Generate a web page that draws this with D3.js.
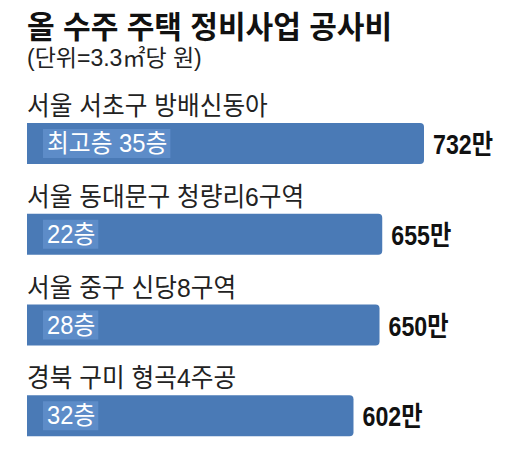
<!DOCTYPE html>
<html>
<head>
<meta charset="utf-8">
<script src="https://cdn.jsdelivr.net/npm/d3@7"></script>
<style>
  body { margin: 0; background: #fff; }
  svg { display: block; }
</style>
</head>
<body>
<div id="chart"></div>
<script>
// values in 만원 per 3.3㎡
const categories = ['서울 서초구 방배신동아', '서울 동대문구 청량리6구역', '서울 중구 신당8구역', '경북 구미 형곡4주공'];
const values = [732, 655, 650, 602];
const floorLabels = ['최고층 35층', '22층', '28층', '32층'];
const valueSuffix = '만';
const title = '올 수주 주택 정비사업 공사비';
const subtitle = '(단위=3.3㎡당 원)';

const width = 520;
const height = 462;
const margin = { top: 78, right: 20, bottom: 21, left: 27 };
const barColor = '#4a7ab6';
const tagColor = '#5d8cc8';
const textColor = '#222';
// latin digits from Liberation, hangul falls back to Noto CJK
const mixFont = '"Liberation Sans", "Noto Sans CJK KR", sans-serif';

const svg = d3.select('#chart')
  .append('svg')
  .attr('width', width)
  .attr('height', height);

svg.append('rect')
  .attr('width', width)
  .attr('height', height)
  .attr('fill', '#fff');

// condensed text helper
const place = (sel, x, y, sx) => sel.attr('transform', `translate(${x},${y}) scale(${sx},1)`);

place(svg.append('text'), margin.left, 38, 0.97)
  .style('font-family', mixFont)
  .style('font-size', '31px')
  .style('font-weight', '700')
  .attr('fill', '#111')
  .text(title);

place(svg.append('text'), margin.left, 65.5, 1)
  .style('font-family', mixFont)
  .style('font-size', '23px')
  .attr('fill', textColor)
  .text(subtitle);

const x = d3.scaleLinear()
  .domain([0, d3.max(values)])
  .range([0, 397]);

const y = d3.scaleBand()
  .domain(categories)
  .range([margin.top, height - margin.bottom]);

const barH = 41;
const barOffset = 45;
const r = 4;

// bar with rounded right corners only
const barPath = w => `M0,0H${w - r}Q${w},0 ${w},${r}V${barH - r}Q${w},${barH} ${w - r},${barH}H0Z`;

const rows = svg.selectAll('g.row')
  .data(categories.map((c, i) => ({ cat: c, value: values[i], floor: floorLabels[i] })))
  .enter()
  .append('g')
  .attr('class', 'row')
  .attr('transform', d => `translate(${margin.left}, ${y(d.cat)})`);

rows.each(function drawLabel(d) {
  place(d3.select(this).append('text'), 0, 37, 0.95)
    .style('font-family', mixFont)
    .style('font-size', '26px')
    .attr('fill', textColor)
    .text(d.cat);
});

rows.append('path')
  .attr('transform', `translate(0, ${barOffset})`)
  .attr('d', d => barPath(x(d.value)))
  .attr('fill', barColor);

rows.each(function drawTag(d) {
  const g = d3.select(this);
  const tag = g.append('g');
  const rect = tag.append('rect')
    .attr('fill', tagColor);
  const sx = 0.95;
  const t = place(tag.append('text'), 20, barOffset + 29, sx)
    .style('font-family', mixFont)
    .style('font-size', '25px')
    .attr('fill', '#fff')
    .text(d.floor);
  const bb = t.node().getBBox();
  rect
    .attr('x', 16)
    .attr('y', barOffset + 6)
    .attr('width', bb.width * sx + 7)
    .attr('height', barH - 12);
});

rows.each(function drawValue(d) {
  place(d3.select(this).append('text'), x(d.value) + 9, barOffset + 31, 0.86)
    .style('font-family', mixFont)
    .style('font-size', '27px')
    .style('font-weight', '700')
    .attr('fill', '#111')
    .text(`${d.value}${valueSuffix}`);
});
</script>
</body>
</html>
